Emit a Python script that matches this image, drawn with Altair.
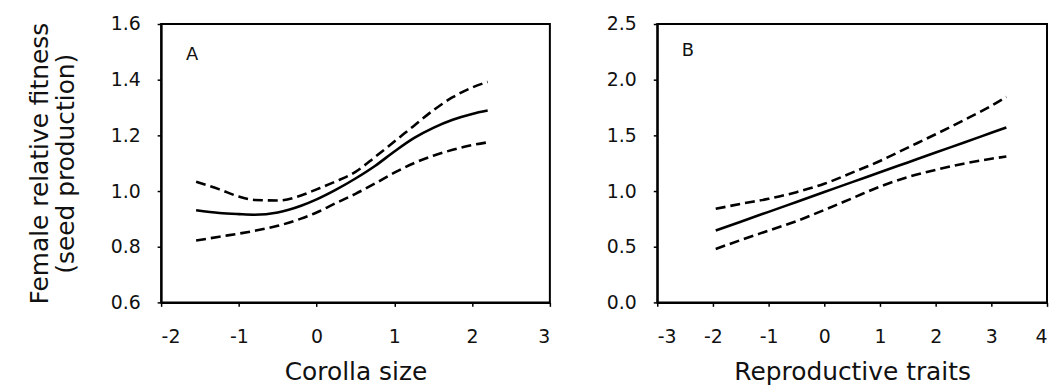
import altair as alt
import pandas as pd

FONT = "DejaVu Sans"

# Panel A: Corolla size
a_x = [-1.55, -1.25, -1.0, -0.8, -0.5, -0.2, 0.0, 0.25, 0.5, 0.75, 1.0, 1.25, 1.5, 1.75, 2.0, 2.2]
a_fit = [0.931, 0.921, 0.917, 0.915, 0.923, 0.947, 0.970, 1.005, 1.045, 1.090, 1.142, 1.190, 1.227, 1.256, 1.277, 1.289]
a_upper = [1.033, 1.006, 0.980, 0.968, 0.966, 0.984, 1.006, 1.035, 1.069, 1.122, 1.178, 1.234, 1.290, 1.337, 1.372, 1.392]
a_lower = [0.822, 0.836, 0.847, 0.857, 0.875, 0.901, 0.923, 0.957, 0.990, 1.027, 1.066, 1.100, 1.127, 1.148, 1.165, 1.175]

# Panel B: Reproductive traits
b_x = [-1.95, -1.5, -1.0, -0.5, 0.0, 0.5, 1.0, 1.5, 2.0, 2.5, 3.0, 3.27]
b_fit = [0.645, 0.725, 0.813, 0.902, 0.991, 1.080, 1.168, 1.257, 1.346, 1.434, 1.523, 1.571]
b_upper = [0.840, 0.885, 0.930, 0.990, 1.065, 1.165, 1.270, 1.390, 1.510, 1.635, 1.765, 1.845]
b_lower = [0.480, 0.560, 0.645, 0.730, 0.830, 0.935, 1.040, 1.125, 1.190, 1.245, 1.290, 1.310]

a_xticks = [-2, -1, 0, 1, 2, 3]
a_yticks = [0.6, 0.8, 1.0, 1.2, 1.4, 1.6]
b_xticks = [-3, -2, -1, 0, 1, 2, 3, 4]
b_yticks = [0.0, 0.5, 1.0, 1.5, 2.0, 2.5]

INK = "#111"


def long_df(xs, fit, up, lo):
    rows = []
    for name, ys in (("fit", fit), ("upper", up), ("lower", lo)):
        for x, y in zip(xs, ys):
            rows.append({"x": x, "y": y, "band": name})
    return pd.DataFrame(rows)


def axis_x(values, title):
    return alt.Axis(values=values, title=title, tickSize=4, tickWidth=1.5,
                    labelExpr="datum.value < 0 ? '-' + format(-datum.value, 'd') : format(datum.value, 'd')",
                    tickColor="black", domainColor="black", domainWidth=2, grid=False,
                    labelFont=FONT, labelFontSize=19, labelColor=INK, labelPadding=21,
                    titleFont=FONT, titleFontSize=25, titleFontWeight="normal",
                    titleColor=INK, titlePadding=14)


def axis_y(values, title):
    kw = dict(values=values, format=".1f", tickSize=4, tickWidth=1.5,
              tickColor="black", domainColor="black", domainWidth=2, grid=False,
              labelFont=FONT, labelFontSize=19, labelColor=INK, labelPadding=17)
    if title:
        kw.update(title=title, titleFont=FONT, titleFontSize=25, titleFontWeight="normal",
                  titleColor=INK, titlePadding=32, titleLineHeight=26)
    else:
        kw.update(title=None)
    return alt.Axis(**kw)


def panel(xs, fit, up, lo, xdom, ydom, xticks, yticks, xtitle, ytitle, letter, lx, ly, w):
    df = long_df(xs, fit, up, lo)
    xenc = alt.X("x:Q", scale=alt.Scale(domain=xdom, nice=False, zero=False),
                 axis=axis_x(xticks, xtitle))
    yenc = alt.Y("y:Q", scale=alt.Scale(domain=ydom, nice=False, zero=False),
                 axis=axis_y(yticks, ytitle))
    solid = alt.Chart(df).transform_filter(alt.datum.band == "fit").mark_line(
        color="black", strokeWidth=2.6, interpolate="monotone").encode(x=xenc, y=yenc)
    dashed = alt.Chart(df).transform_filter(alt.datum.band != "fit").mark_line(
        color="black", strokeWidth=2.6, strokeDash=[10, 5], interpolate="monotone").encode(
        x=xenc, y=yenc, detail="band:N")
    lab = alt.Chart(pd.DataFrame({"x": [lx], "y": [ly], "t": [letter]})).mark_text(
        font=FONT, fontSize=18, color=INK, align="center", baseline="middle").encode(
        x=alt.X("x:Q"), y=alt.Y("y:Q"), text="t:N")
    return alt.layer(solid, dashed, lab).properties(
        width=w, height=280,
        view=alt.ViewBackground(stroke="black", strokeWidth=2, fill="white"))


pa = panel(a_x, a_fit, a_upper, a_lower, [-2, 3], [0.6, 1.6], a_xticks, a_yticks,
           "Corolla size", ["Female relative fitness", "(seed production)"], "A", -1.6, 1.49, 391)
pb = panel(b_x, b_fit, b_upper, b_lower, [-3, 4], [0.0, 2.5], b_xticks, b_yticks,
           "Reproductive traits", None, "B", -2.45, 2.26, 392)

chart = alt.hconcat(pa, pb, spacing=53).properties(
    padding={"left": 18, "top": 5, "right": 0, "bottom": 0}
).configure(background="white").configure_view(stroke="black", strokeWidth=2)

chart.save("out.html", embed_options={"renderer": "svg", "actions": False})
